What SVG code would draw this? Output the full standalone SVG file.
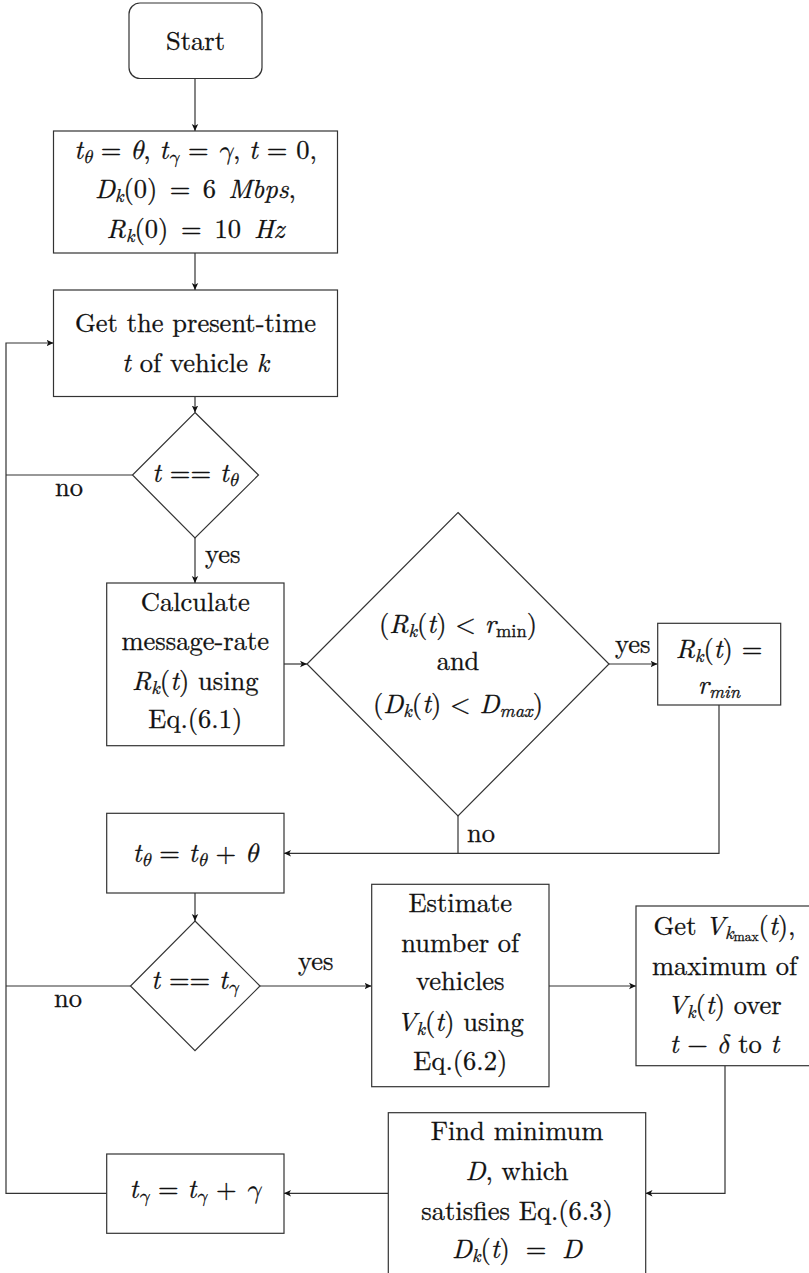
<svg xmlns="http://www.w3.org/2000/svg" width="809" height="1273" viewBox="0 0 809 1273" font-family="'Latin Modern Roman', 'CMU Serif', 'Liberation Serif', serif">
  <style>
    .box { fill: #ffffff; stroke: #333333; stroke-width: 1.2; }
    .cn { fill: none; stroke: #333333; stroke-width: 1.2; }
    .t { font-family: 'Latin Modern Roman', 'CMU Serif', 'Liberation Serif', serif; font-size: 26.5px; fill: #111111; stroke: #111111; stroke-width: 0.3; text-anchor: middle; }
    .lbl { font-family: 'Latin Modern Roman', 'CMU Serif', 'Liberation Serif', serif; font-size: 26.5px; fill: #111111; stroke: #111111; stroke-width: 0.3; text-anchor: start; }
    .i { font-style: italic; }
    .g { font-family: 'Latin Modern Math', 'CMU Serif', 'STIX Two Math', 'STIX Two Text', 'Noto Serif', 'Noto Sans', serif; font-style: italic; font-weight: normal; }
    .s { font-size: 18.5px; }
    .ss { font-size: 13.5px; }
  </style>
  <defs>
    <marker id="arrow" markerUnits="userSpaceOnUse" markerWidth="8" markerHeight="8" refX="7" refY="4" orient="auto">
      <path d="M0,0.8 L7,4 L0,7.2 L1.8,4 Z" fill="#111111"/>
    </marker>
  </defs>

  <rect width="809" height="1273" fill="#ffffff"/>

  <!-- connectors -->
  <g id="connectors">
    <path class="cn" d="M195,78.5 V131" marker-end="url(#arrow)"/>
    <path class="cn" d="M195,253 V290" marker-end="url(#arrow)"/>
    <path class="cn" d="M195,396.5 V412.5" marker-end="url(#arrow)"/>
    <path class="cn" d="M195,538 V583" marker-end="url(#arrow)"/>
    <path class="cn" d="M284,664 H307" marker-end="url(#arrow)"/>
    <path class="cn" d="M609,664 H657.5" marker-end="url(#arrow)"/>
    <path class="cn" d="M719,705 V853.3 H284" marker-end="url(#arrow)"/>
    <path class="cn" d="M458,816 V853.3"/>
    <path class="cn" d="M195,893 V921" marker-end="url(#arrow)"/>
    <path class="cn" d="M260,986 H371.5" marker-end="url(#arrow)"/>
    <path class="cn" d="M549,986 H636" marker-end="url(#arrow)"/>
    <path class="cn" d="M725,1066 V1193.3 H645.5" marker-end="url(#arrow)"/>
    <path class="cn" d="M388.3,1193.3 H284" marker-end="url(#arrow)"/>
    <!-- return loop -->
    <path class="cn" d="M106.7,1193.3 H6 V343 H53.5" marker-end="url(#arrow)"/>
    <path class="cn" d="M132.5,475 H6"/>
    <path class="cn" d="M130.5,986 H6"/>
    <!-- branch labels -->
    <text class="lbl" x="55" y="496">no</text>
    <text class="lbl" x="205" y="563">yes</text>
    <text class="lbl" x="615" y="653">yes</text>
    <text class="lbl" x="467" y="842">no</text>
    <text class="lbl" x="298" y="970">yes</text>
    <text class="lbl" x="54" y="1007">no</text>
  </g>

  <g id="start">
    <rect class="box" x="129" y="3" width="133" height="75.5" rx="11"/>
    <text class="t" x="195.5" y="50">Start</text>
  </g>

  <g id="init">
    <rect class="box" x="53.5" y="131" width="284" height="122"/>
    <text class="t" x="195.5" y="159"><tspan class="i">t</tspan><tspan class="s g" dy="4">θ</tspan><tspan dy="-4"> = </tspan><tspan class="g">θ</tspan>, <tspan class="i">t</tspan><tspan class="s g" dy="4">γ</tspan><tspan dy="-4"> = </tspan><tspan class="g">γ</tspan>, <tspan class="i">t</tspan> = 0,</text>
    <text class="t" x="195.5" y="198" word-spacing="3.5"><tspan class="i">D</tspan><tspan class="s i" dy="4">k</tspan><tspan dy="-4">(0) = 6 </tspan><tspan class="i">Mbps</tspan>,</text>
    <text class="t" x="195.5" y="238" word-spacing="4"><tspan class="i">R</tspan><tspan class="s i" dy="4">k</tspan><tspan dy="-4">(0) = 10 </tspan><tspan class="i">Hz</tspan></text>
  </g>

  <g id="get-time">
    <rect class="box" x="53.5" y="290" width="284" height="106.5"/>
    <text class="t" x="195.5" y="332">Get the present-time</text>
    <text class="t" x="195.5" y="372"><tspan class="i">t</tspan> of vehicle <tspan class="i">k</tspan></text>
  </g>

  <g id="check-theta">
    <path class="box" d="M195,412.5 L258.5,475 L195,538 L132.5,475 Z"/>
    <text class="t" x="195" y="482"><tspan class="i">t</tspan> == <tspan class="i">t</tspan><tspan class="s g" dy="4">θ</tspan></text>
  </g>

  <g id="calc-rate">
    <rect class="box" x="106.7" y="583" width="177.3" height="162.7"/>
    <text class="t" x="195.3" y="611">Calculate</text>
    <text class="t" x="195.3" y="650">message-rate</text>
    <text class="t" x="195.3" y="690"><tspan class="i">R</tspan><tspan class="s i" dy="4">k</tspan><tspan dy="-4">(</tspan><tspan class="i">t</tspan>) using</text>
    <text class="t" x="195.3" y="728">Eq.(6.1)</text>
  </g>

  <g id="check-rate">
    <path class="box" d="M458,512.5 L609,664 L458,816 L307,664 Z"/>
    <text class="t" x="458" y="633">(<tspan class="i">R</tspan><tspan class="s i" dy="4">k</tspan><tspan dy="-4">(</tspan><tspan class="i">t</tspan>) &lt; <tspan class="i">r</tspan><tspan class="s" dy="4">min</tspan><tspan dy="-4">)</tspan></text>
    <text class="t" x="458" y="670">and</text>
    <text class="t" x="458" y="713">(<tspan class="i">D</tspan><tspan class="s i" dy="4">k</tspan><tspan dy="-4">(</tspan><tspan class="i">t</tspan>) &lt; <tspan class="i">D</tspan><tspan class="s i" dy="4">max</tspan><tspan dy="-4">)</tspan></text>
  </g>

  <g id="set-rmin">
    <rect class="box" x="657.7" y="623.3" width="123" height="81.7"/>
    <text class="t" x="719" y="658"><tspan class="i">R</tspan><tspan class="s i" dy="4">k</tspan><tspan dy="-4">(</tspan><tspan class="i">t</tspan>) =</text>
    <text class="t" x="719" y="694"><tspan class="i">r</tspan><tspan class="s i" dy="4">min</tspan></text>
  </g>

  <g id="update-theta">
    <rect class="box" x="106.7" y="813.3" width="177.3" height="79.7"/>
    <text class="t" x="195.3" y="862"><tspan class="i">t</tspan><tspan class="s g" dy="4">θ</tspan><tspan dy="-4"> = </tspan><tspan class="i">t</tspan><tspan class="s g" dy="4">θ</tspan><tspan dy="-4"> + </tspan><tspan class="g">θ</tspan></text>
  </g>

  <g id="check-gamma">
    <path class="box" d="M195,921 L260,986 L195,1050.7 L130.5,986 Z"/>
    <text class="t" x="195" y="989"><tspan class="i">t</tspan> == <tspan class="i">t</tspan><tspan class="s g" dy="4">γ</tspan></text>
  </g>

  <g id="estimate">
    <rect class="box" x="371.7" y="884.3" width="177.3" height="202.4"/>
    <text class="t" x="460.3" y="912">Estimate</text>
    <text class="t" x="460.3" y="952">number of</text>
    <text class="t" x="460.3" y="990">vehicles</text>
    <text class="t" x="460.3" y="1031"><tspan class="i">V</tspan><tspan class="s i" dy="4">k</tspan><tspan dy="-4">(</tspan><tspan class="i">t</tspan>) using</text>
    <text class="t" x="460.3" y="1070">Eq.(6.2)</text>
  </g>

  <g id="max-vehicles">
    <rect class="box" x="636" y="906" width="180" height="159.7"/>
    <text class="t" x="724.5" y="935">Get <tspan class="i">V</tspan><tspan class="s i" dy="4">k</tspan><tspan class="ss" dy="2">max</tspan><tspan dy="-6">(</tspan><tspan class="i">t</tspan>),</text>
    <text class="t" x="724.5" y="975">maximum of</text>
    <text class="t" x="724.5" y="1014"><tspan class="i">V</tspan><tspan class="s i" dy="4">k</tspan><tspan dy="-4">(</tspan><tspan class="i">t</tspan>) over</text>
    <text class="t" x="724.5" y="1053"><tspan class="i">t</tspan> − <tspan class="g">δ</tspan> to <tspan class="i">t</tspan></text>
  </g>

  <g id="find-d">
    <rect class="box" x="388.3" y="1112.7" width="257.4" height="180"/>
    <text class="t" x="517" y="1140">Find minimum</text>
    <text class="t" x="517" y="1180"><tspan class="i">D</tspan>, which</text>
    <text class="t" x="517" y="1220">satisfies Eq.(6.3)</text>
    <text class="t" x="517" y="1258" word-spacing="7"><tspan class="i">D</tspan><tspan class="s i" dy="4">k</tspan><tspan dy="-4">(</tspan><tspan class="i">t</tspan>) = <tspan class="i">D</tspan></text>
  </g>

  <g id="update-gamma">
    <rect class="box" x="106.7" y="1154" width="177.3" height="79.3"/>
    <text class="t" x="195.3" y="1198"><tspan class="i">t</tspan><tspan class="s g" dy="4">γ</tspan><tspan dy="-4"> = </tspan><tspan class="i">t</tspan><tspan class="s g" dy="4">γ</tspan><tspan dy="-4"> + </tspan><tspan class="g">γ</tspan></text>
  </g>
</svg>
